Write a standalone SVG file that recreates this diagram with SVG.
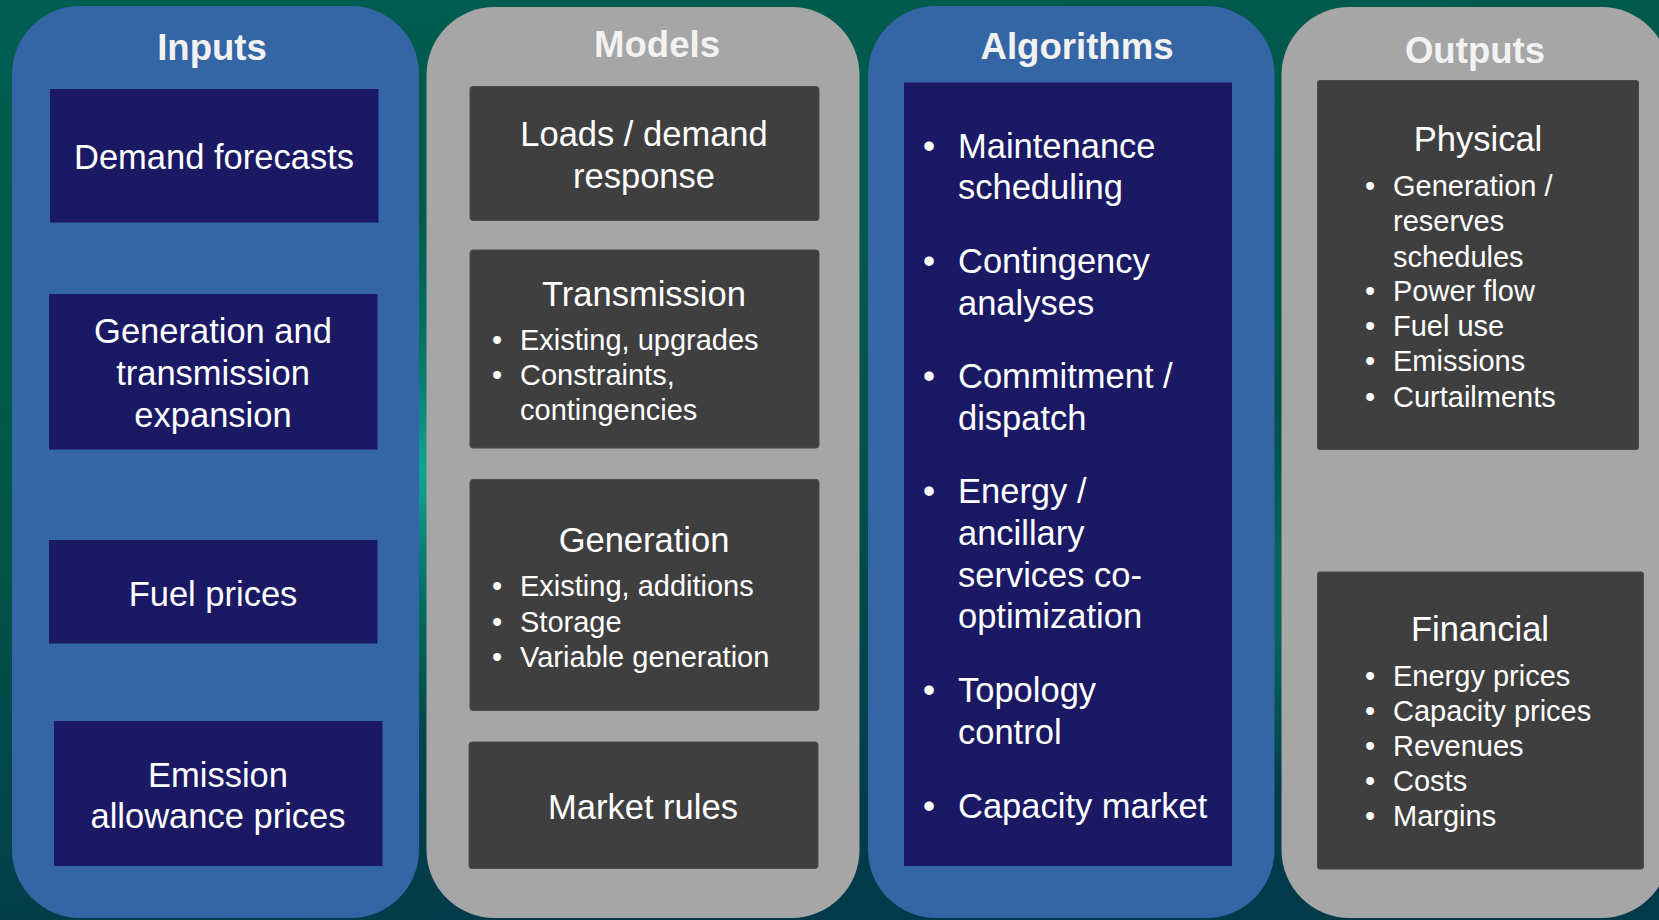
<svg xmlns="http://www.w3.org/2000/svg" width="1659" height="920" viewBox="0 0 1659 920">
<defs>
<linearGradient id="bg" x1="0" y1="0" x2="0.3" y2="1">
<stop offset="0" stop-color="#005e50"/>
<stop offset="0.55" stop-color="#025448"/>
<stop offset="1" stop-color="#033a4a"/>
</linearGradient>
<radialGradient id="glow" cx="430" cy="470" r="260" gradientUnits="userSpaceOnUse">
<stop offset="0" stop-color="#14b0a0" stop-opacity="0.9"/>
<stop offset="0.5" stop-color="#0a8c7e" stop-opacity="0.5"/>
<stop offset="1" stop-color="#0a8c7e" stop-opacity="0"/>
</radialGradient>
<radialGradient id="glow2" cx="1240" cy="600" r="200" gradientUnits="userSpaceOnUse">
<stop offset="0" stop-color="#0a8070" stop-opacity="0.7"/>
<stop offset="1" stop-color="#0a8070" stop-opacity="0"/>
</radialGradient>
<style>
.blue{fill:#3465a4}
.gray{fill:#a6a6a6}
.navy{fill:#1b1964}
.dark{fill:#3f3f3f;stroke:#4a4a4a;stroke-width:1}
.title{font-family:"Liberation Sans",Arial,sans-serif;font-weight:bold;font-size:36.6px;fill:#f2f2f2;text-anchor:middle}
.big{font-family:"Liberation Sans",Arial,sans-serif;font-size:34.5px;fill:#ffffff}
.mid{text-anchor:middle}
.sm{font-family:"Liberation Sans",Arial,sans-serif;font-size:29px;fill:#ffffff}
</style>
</defs>
<rect x="0" y="0" width="1659" height="920" fill="url(#bg)"/>
<rect x="0" y="0" width="1659" height="920" fill="url(#glow)"/>
<rect x="0" y="0" width="1659" height="920" fill="url(#glow2)"/>

<g id="panel-inputs">
<rect class="blue" x="12" y="6" width="407" height="912" rx="68" ry="68"/>
<text class="title" x="212" y="60">Inputs</text>
</g>
<g id="panel-models">
<rect class="gray" x="426.5" y="7" width="433" height="911" rx="68" ry="68"/>
<text class="title" x="657" y="57">Models</text>
</g>
<g id="panel-algorithms">
<rect class="blue" x="868" y="6" width="406.5" height="912" rx="68" ry="68"/>
<text class="title" x="1077" y="59">Algorithms</text>
</g>
<g id="panel-outputs">
<rect class="gray" x="1281.5" y="7" width="388" height="911" rx="68" ry="68"/>
<text class="title" x="1475" y="63">Outputs</text>
</g>

<g id="demand-forecasts">
<rect class="navy" x="50" y="89" width="328.5" height="133.5"/>
<text class="big mid" x="214" y="169">Demand forecasts</text>
</g>
<g id="gen-trans-expansion">
<rect class="navy" x="49" y="294" width="328.5" height="155.5"/>
<text class="big mid" x="213" y="343">Generation and</text>
<text class="big mid" x="213" y="385">transmission</text>
<text class="big mid" x="213" y="427">expansion</text>
</g>
<g id="fuel-prices">
<rect class="navy" x="49" y="540" width="328.5" height="103.5"/>
<text class="big mid" x="213" y="605.5">Fuel prices</text>
</g>
<g id="emission-prices">
<rect class="navy" x="54" y="721" width="328.5" height="145"/>
<text class="big mid" x="218" y="786.5">Emission</text>
<text class="big mid" x="218" y="827.5">allowance prices</text>
</g>

<g id="loads">
<rect class="dark" x="470" y="86.5" width="349" height="134" rx="3"/>
<text class="big mid" x="644" y="146">Loads / demand</text>
<text class="big mid" x="644" y="188">response</text>
</g>
<g id="transmission">
<rect class="dark" x="470" y="250" width="349" height="198" rx="3"/>
<text class="big mid" x="644" y="306">Transmission</text>
<text class="sm" x="492" y="350">•</text><text class="sm" x="520" y="350">Existing, upgrades</text>
<text class="sm" x="492" y="385">•</text><text class="sm" x="520" y="385">Constraints,</text>
<text class="sm" x="520" y="420">contingencies</text>
</g>
<g id="generation">
<rect class="dark" x="470" y="479.5" width="349" height="231" rx="3"/>
<text class="big mid" x="644" y="552">Generation</text>
<text class="sm" x="492" y="596">•</text><text class="sm" x="520" y="596">Existing, additions</text>
<text class="sm" x="492" y="631.5">•</text><text class="sm" x="520" y="631.5">Storage</text>
<text class="sm" x="492" y="667">•</text><text class="sm" x="520" y="667">Variable generation</text>
</g>
<g id="market-rules">
<rect class="dark" x="469" y="742" width="349" height="126.5" rx="3"/>
<text class="big mid" x="643" y="819">Market rules</text>
</g>

<g id="algorithms-list">
<rect class="navy" x="904" y="82.5" width="328" height="783.5"/>
<text class="big" x="923" y="158">•</text><text class="big" x="958" y="158">Maintenance</text>
<text class="big" x="958" y="199">scheduling</text>
<text class="big" x="923" y="273">•</text><text class="big" x="958" y="273">Contingency</text>
<text class="big" x="958" y="315">analyses</text>
<text class="big" x="923" y="388">•</text><text class="big" x="958" y="388">Commitment /</text>
<text class="big" x="958" y="429.5">dispatch</text>
<text class="big" x="923" y="503">•</text><text class="big" x="958" y="503">Energy /</text>
<text class="big" x="958" y="544.5">ancillary</text>
<text class="big" x="958" y="586.5">services co-</text>
<text class="big" x="958" y="628">optimization</text>
<text class="big" x="923" y="701.5">•</text><text class="big" x="958" y="701.5">Topology</text>
<text class="big" x="958" y="743.5">control</text>
<text class="big" x="923" y="817.5">•</text><text class="big" x="958" y="817.5">Capacity market</text>
</g>

<g id="physical">
<rect class="dark" x="1317.5" y="80.5" width="321" height="369" rx="2"/>
<text class="big mid" x="1478" y="151">Physical</text>
<text class="sm" x="1365" y="196">•</text><text class="sm" x="1393" y="196">Generation /</text>
<text class="sm" x="1393" y="231">reserves</text>
<text class="sm" x="1393" y="266.5">schedules</text>
<text class="sm" x="1365" y="301">•</text><text class="sm" x="1393" y="301">Power flow</text>
<text class="sm" x="1365" y="336">•</text><text class="sm" x="1393" y="336">Fuel use</text>
<text class="sm" x="1365" y="371">•</text><text class="sm" x="1393" y="371">Emissions</text>
<text class="sm" x="1365" y="407">•</text><text class="sm" x="1393" y="407">Curtailments</text>
</g>
<g id="financial">
<rect class="dark" x="1317.5" y="572" width="326" height="297" rx="2"/>
<text class="big mid" x="1480" y="641">Financial</text>
<text class="sm" x="1365" y="686">•</text><text class="sm" x="1393" y="686">Energy prices</text>
<text class="sm" x="1365" y="721">•</text><text class="sm" x="1393" y="721">Capacity prices</text>
<text class="sm" x="1365" y="756">•</text><text class="sm" x="1393" y="756">Revenues</text>
<text class="sm" x="1365" y="791">•</text><text class="sm" x="1393" y="791">Costs</text>
<text class="sm" x="1365" y="826">•</text><text class="sm" x="1393" y="826">Margins</text>
</g>

<g id="connectors"></g>
</svg>
